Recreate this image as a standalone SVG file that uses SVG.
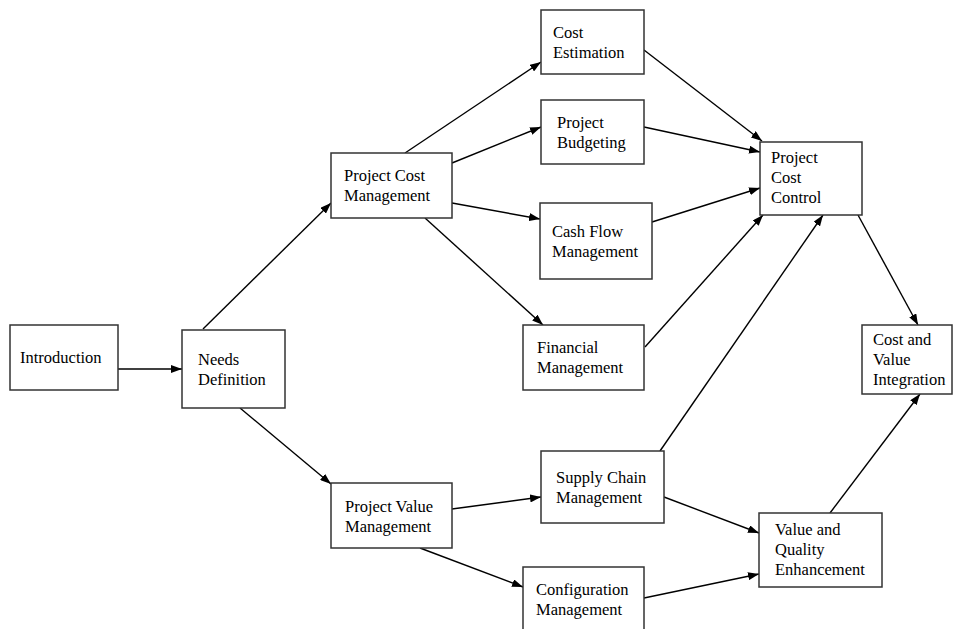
<svg xmlns="http://www.w3.org/2000/svg" width="953" height="629" viewBox="0 0 953 629">
<style>
.box{fill:#fff;stroke:#333;stroke-width:1.5}
.lbl{font-family:"Liberation Serif","Times New Roman",serif;font-size:16.5px;fill:#000}
.edge{stroke:#000;stroke-width:1.4;fill:none;marker-end:url(#ah)}
</style>
<defs>
<marker id="ah" markerUnits="userSpaceOnUse" markerWidth="11" markerHeight="8" refX="11" refY="4" orient="auto">
<path d="M0,0 L11,4 L0,8 z" fill="#000"/>
</marker>
</defs>
<rect width="953" height="629" fill="#fff"/>
<g id="connectors">
<line class="edge" x1="118" y1="369" x2="182" y2="369"/>
<line class="edge" x1="203" y1="329" x2="331" y2="203"/>
<line class="edge" x1="240" y1="408" x2="331" y2="484"/>
<line class="edge" x1="405" y1="153" x2="541" y2="62"/>
<line class="edge" x1="452" y1="163" x2="541" y2="127"/>
<line class="edge" x1="452" y1="203" x2="540" y2="219"/>
<line class="edge" x1="425" y1="218" x2="543" y2="325"/>
<line class="edge" x1="644" y1="50" x2="762" y2="141"/>
<line class="edge" x1="644" y1="127" x2="760" y2="152"/>
<line class="edge" x1="652" y1="222" x2="760" y2="188"/>
<line class="edge" x1="645" y1="347" x2="763" y2="215"/>
<line class="edge" x1="660" y1="451" x2="823" y2="215"/>
<line class="edge" x1="858" y1="215" x2="918" y2="325"/>
<line class="edge" x1="452" y1="509" x2="541" y2="497"/>
<line class="edge" x1="420" y1="548" x2="523" y2="587"/>
<line class="edge" x1="664" y1="497" x2="759" y2="533"/>
<line class="edge" x1="644" y1="598" x2="759" y2="574"/>
<line class="edge" x1="830" y1="513" x2="920" y2="394"/>
</g>
<g id="introduction">
<rect class="box" x="10" y="325" width="108" height="65"/>
<text class="lbl" x="20" y="363">Introduction</text>
</g>
<g id="needs-definition">
<rect class="box" x="182" y="330" width="103" height="78"/>
<text class="lbl" x="198" y="365">Needs</text>
<text class="lbl" x="198" y="385">Definition</text>
</g>
<g id="project-cost-management">
<rect class="box" x="331" y="153" width="121" height="65"/>
<text class="lbl" x="344" y="181">Project Cost</text>
<text class="lbl" x="344" y="201">Management</text>
</g>
<g id="cost-estimation">
<rect class="box" x="541" y="10" width="103" height="64"/>
<text class="lbl" x="553" y="38">Cost</text>
<text class="lbl" x="553" y="58">Estimation</text>
</g>
<g id="project-budgeting">
<rect class="box" x="541" y="100" width="103" height="64"/>
<text class="lbl" x="557" y="128">Project</text>
<text class="lbl" x="557" y="148">Budgeting</text>
</g>
<g id="cash-flow-management">
<rect class="box" x="540" y="203" width="112" height="76"/>
<text class="lbl" x="552" y="237">Cash Flow</text>
<text class="lbl" x="552" y="257">Management</text>
</g>
<g id="financial-management">
<rect class="box" x="523" y="325" width="121" height="65"/>
<text class="lbl" x="537" y="353">Financial</text>
<text class="lbl" x="537" y="373">Management</text>
</g>
<g id="project-cost-control">
<rect class="box" x="760" y="142" width="102" height="73"/>
<text class="lbl" x="771" y="163">Project</text>
<text class="lbl" x="771" y="183">Cost</text>
<text class="lbl" x="771" y="203">Control</text>
</g>
<g id="cost-and-value-integration">
<rect class="box" x="862" y="325" width="90" height="69"/>
<text class="lbl" x="873" y="345">Cost and</text>
<text class="lbl" x="873" y="365">Value</text>
<text class="lbl" x="873" y="385">Integration</text>
</g>
<g id="project-value-management">
<rect class="box" x="331" y="483" width="121" height="65"/>
<text class="lbl" x="345" y="512">Project Value</text>
<text class="lbl" x="345" y="532">Management</text>
</g>
<g id="supply-chain-management">
<rect class="box" x="541" y="451" width="123" height="72"/>
<text class="lbl" x="556" y="483">Supply Chain</text>
<text class="lbl" x="556" y="503">Management</text>
</g>
<g id="configuration-management">
<rect class="box" x="523" y="567" width="121" height="70"/>
<text class="lbl" x="536" y="595">Configuration</text>
<text class="lbl" x="536" y="615">Management</text>
</g>
<g id="value-and-quality-enhancement">
<rect class="box" x="759" y="513" width="123" height="74"/>
<text class="lbl" x="775" y="535">Value and</text>
<text class="lbl" x="775" y="555">Quality</text>
<text class="lbl" x="775" y="575">Enhancement</text>
</g>
</svg>
